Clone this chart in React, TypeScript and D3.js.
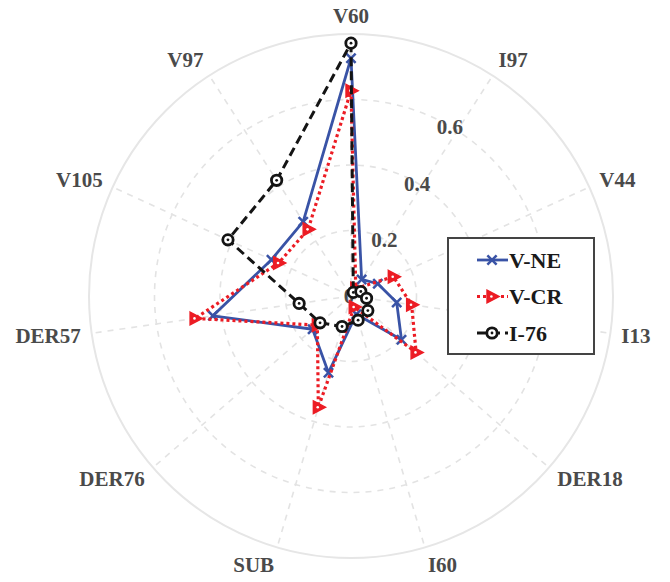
import React from "react";
import * as d3 from "d3";

const categories = ["V60", "I97", "V44", "I13", "DER18", "I60", "SUB", "DER76", "DER57", "V105", "V97"];
const vneValues = [0.726, 0.06, 0.09, 0.141, 0.204, 0.058, 0.244, 0.155, 0.426, 0.267, 0.27];
const vcrValues = [0.627, 0.027, 0.142, 0.187, 0.263, 0.035, 0.354, 0.136, 0.481, 0.243, 0.242];
const i76Values = [0.772, 0.013, 0.033, 0.048, 0.068, 0.077, 0.097, 0.125, 0.16, 0.413, 0.42];
const radialTicks = [0, 0.2, 0.4, 0.6];
const seriesNames = ["V-NE", "V-CR", "I-76"];

const W = 670;
const H = 582;
const CX = 351;
const CY = 296;
const R = 262;
const FONT = "'Liberation Serif', 'Times New Roman', serif";

const rScale = d3.scaleLinear().domain([0, 0.8]).range([0, R]);
const aScale = d3
  .scaleLinear()
  .domain([0, categories.length])
  .range([0, 2 * Math.PI]);

const pt = (i: number, v: number): [number, number] => {
  const a = aScale(i);
  const r = rScale(v);
  return [CX + r * Math.sin(a), CY - r * Math.cos(a)];
};

const lineGen = d3
  .lineRadial<number>()
  .angle((_, i) => aScale(i))
  .radius((d) => rScale(d))
  .curve(d3.curveLinearClosed);

const BLUE = "#3953a6";
const RED = "#ec1c24";
const BLACK = "#141414";

function XMarker({ x, y }: { x: number; y: number }) {
  const s = 4.6;
  return (
    <g transform={`translate(${x},${y})`} stroke={BLUE} strokeWidth={2.5} fill="none">
      <line x1={-s} y1={-s} x2={s} y2={s} />
      <line x1={-s} y1={s} x2={s} y2={-s} />
    </g>
  );
}

function TriMarker({ x, y }: { x: number; y: number }) {
  return (
    <g transform={`translate(${x},${y})`}>
      <polygon points="-5,-6.4 7.2,0 -5,6.4" fill={RED} stroke={RED} strokeWidth={1.4} strokeLinejoin="miter" />
      <circle cx={-0.6} cy={0} r={1.3} fill="#fff" />
    </g>
  );
}

function CircMarker({ x, y }: { x: number; y: number }) {
  return (
    <g transform={`translate(${x},${y})`}>
      <circle r={5.2} fill="#fff" stroke={BLACK} strokeWidth={2.8} />
      <circle r={1.4} fill={BLACK} />
    </g>
  );
}

export default function App() {
  const series = [
    { name: seriesNames[0], values: vneValues, color: BLUE, dash: undefined as string | undefined, width: 2.8, Marker: XMarker },
    { name: seriesNames[1], values: vcrValues, color: RED, dash: "3,3", width: 3.2, Marker: TriMarker },
    { name: seriesNames[2], values: i76Values, color: BLACK, dash: "9,5", width: 3, Marker: CircMarker },
  ];

  const tickAngle = (30 * Math.PI) / 180;

  return (
    <svg
      width={W}
      height={H}
      viewBox={`0 0 ${W} ${H}`}
      style={{ position: "absolute", left: 0, top: 0, background: "#fff" }}
      fontFamily={FONT}
    >
      {radialTicks
        .filter((t) => t > 0)
        .map((t) => (
          <circle
            key={`g${t}`}
            cx={CX}
            cy={CY}
            r={rScale(t)}
            fill="none"
            stroke="#e3e3e3"
            strokeWidth={1.6}
            strokeDasharray="6,6"
          />
        ))}
      {categories.map((c, i) => {
        const [x, y] = pt(i, 0.8);
        return (
          <line
            key={`s${c}`}
            x1={CX}
            y1={CY}
            x2={x}
            y2={y}
            stroke="#e3e3e3"
            strokeWidth={1.6}
            strokeDasharray="6,6"
          />
        );
      })}
      <circle cx={CX} cy={CY} r={R} fill="none" stroke="#e6e6e6" strokeWidth={2} />

      {radialTicks.map((t) => {
        const r = rScale(t);
        const x = CX + r * Math.sin(tickAngle) + (t === 0 ? -2 : 0.6);
        const y = CY - r * Math.cos(tickAngle) + (t === 0 ? 0 : 1);
        return (
          <text
            key={`t${t}`}
            x={x}
            y={y}
            textAnchor="middle"
            dominantBaseline="central"
            fontSize={21}
            fontWeight="bold"
            fill="#4a4a4a"
          >
            {t === 0 ? "0" : d3.format(".1f")(t)}
          </text>
        );
      })}

      {categories.map((c, i) => {
        const a = aScale(i);
        const s = Math.sin(a);
        const co = Math.cos(a);
        const rr = R + 11;
        const x = CX + rr * s;
        const y = CY - rr * co - co * 7;
        const anchor = Math.abs(s) < 0.15 ? "middle" : s > 0 ? "start" : "end";
        return (
          <text
            key={`c${c}`}
            x={x}
            y={y}
            textAnchor={anchor}
            dominantBaseline="central"
            fontSize={21}
            fontWeight="bold"
            fill="#4a4a4a"
          >
            {c}
          </text>
        );
      })}

      {series.map((s) => (
        <g key={s.name}>
          <path
            d={lineGen(s.values) || ""}
            transform={`translate(${CX},${CY})`}
            fill="none"
            stroke={s.color}
            strokeWidth={s.width}
            strokeDasharray={s.dash}
            strokeLinejoin="round"
          />
          {s.values.map((v, i) => {
            const [x, y] = pt(i, v);
            const M = s.Marker;
            return <M key={i} x={x} y={y} />;
          })}
        </g>
      ))}

      <g>
        <rect x={448} y={238} width={146} height={116} fill="#fff" stroke="#444" strokeWidth={2} />
        {series.map((s, i) => {
          const y = 260 + i * 36.5;
          const M = s.Marker;
          return (
            <g key={`l${s.name}`}>
              <line
                x1={477}
                x2={508}
                y1={y}
                y2={y}
                stroke={s.color}
                strokeWidth={s.width}
                strokeDasharray={s.dash}
              />
              <M x={492} y={y} />
              <text
                x={509}
                y={y}
                dominantBaseline="central"
                fontSize={22}
                fontWeight="bold"
                fill="#1a1a1a"
              >
                {s.name}
              </text>
            </g>
          );
        })}
      </g>
    </svg>
  );
}
